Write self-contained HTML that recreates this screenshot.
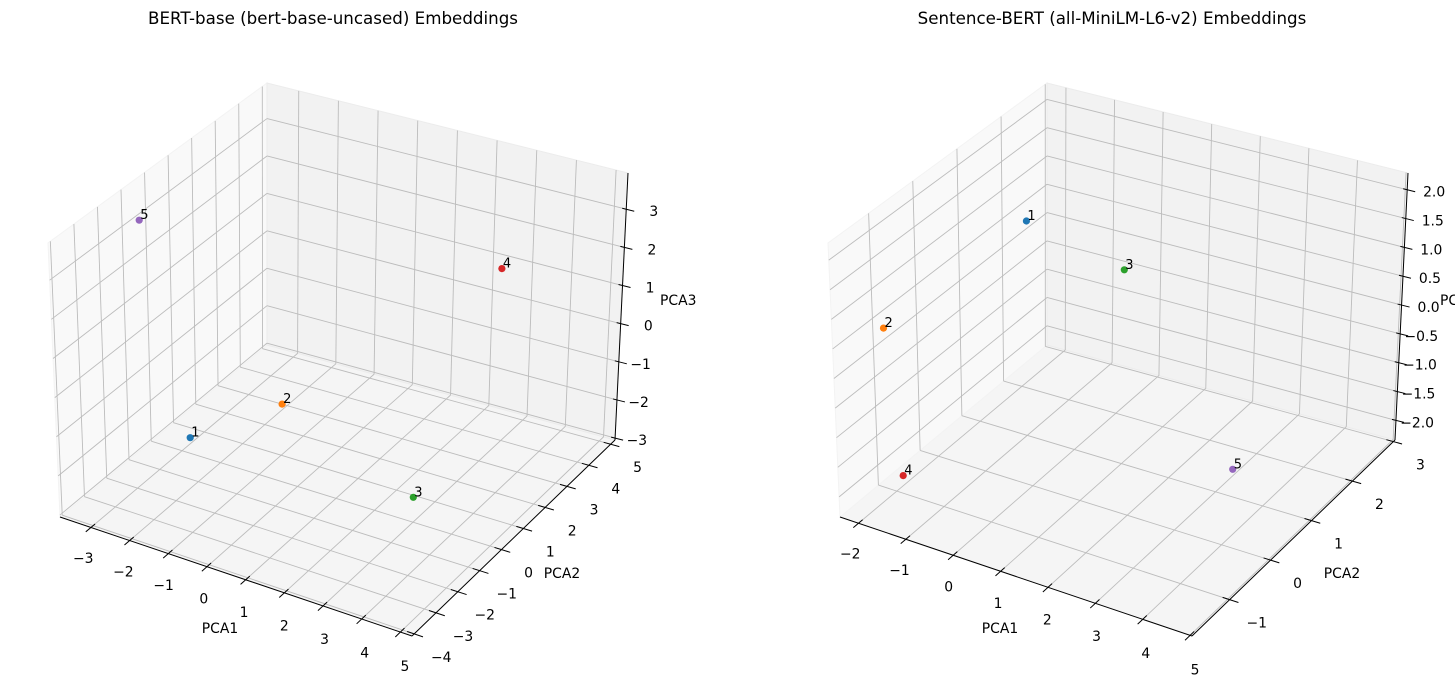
<!DOCTYPE html>
<html><head><meta charset="utf-8">
<style>
html,body{margin:0;padding:0;background:#fff;width:1455px;height:690px;overflow:hidden}
svg{display:block;font-family:"DejaVu Sans","Liberation Sans",sans-serif}
</style></head>
<body>
<svg id="fig" width="1455" height="690" viewBox="0 0 1455 690" xmlns="http://www.w3.org/2000/svg">
<text x="333" y="24" font-size="16.7" text-anchor="middle" fill="#000">BERT-base (bert-base-uncased) Embeddings</text>
<text x="1112" y="24" font-size="16.7" text-anchor="middle" fill="#000">Sentence-BERT (all-MiniLM-L6-v2) Embeddings</text>
</svg>
<script>
// ---- data: BERT chart ----
const bertIds = ['1','2','3','4','5'];
const bertX = [-2.52, -1.22, 3.05, 2.96, -3.40];
const bertY = [-0.44, 1.43, -0.09, 3.88, -0.94];
const bertZ = [-2.35, -2.0, -2.35, 1.5, 3.25];
const bertXTicks = [-3,-2,-1,0,1,2,3,4,5];
const bertYTicks = [-4,-3,-2,-1,0,1,2,3,4,5];
const bertZTicks = [-3,-2,-1,0,1,2,3];
const bertXLim = [-3.8, 5.3];
const bertYLim = [-4.1, 5.2];
const bertZLim = [-3.05, 3.95];
// ---- data: SBERT chart ----
const sbertIds = ['1','2','3','4','5'];
const sbertX = [-0.99, -2.11, 0.43, -1.68, 4.27];
const sbertY = [1.01, -1.06, 1.69, -1.19, -0.08];
const sbertZ = [1.36, 0.44, 0.44, -1.88, -0.95];
const sbertXTicks = [-2,-1,0,1,2,3,4,5];
const sbertYTicks = [-1,0,1,2,3];
const sbertZTicks = [-2,-1.5,-1,-0.5,0,0.5,1,1.5,2];
const sbertXLim = [-2.39, 5.04];
const sbertYLim = [-1.92, 3.04];
const sbertZLim = [-2.34, 2.29];

const colors = ['#1f77b4','#ff7f0e','#2ca02c','#d62728','#9467bd'];
const NS = 'http://www.w3.org/2000/svg';
const svg = document.getElementById('fig');

const C = {
  '000':[60,517],'100':[412,636],'010':[267,345],'110':[615,440],
  '001':[48,243],'101':[416,355],'011':[267,83],'111':[628,173]
};
function tri(u,v,w){
  let x=0,y=0;
  for (const k in C){
    const a=+k[0],b=+k[1],c=+k[2];
    const f=(a?u:1-u)*(b?v:1-v)*(c?w:1-w);
    x+=f*C[k][0]; y+=f*C[k][1];
  }
  return [x,y];
}
function mk(tag, attrs, parent){
  const e=document.createElementNS(NS,tag);
  for(const k in attrs) e.setAttribute(k,attrs[k]);
  (parent||svg).appendChild(e);
  return e;
}
function fmt(v,dec){
  const s = dec ? Math.abs(v).toFixed(1) : String(Math.abs(v));
  return (v<0?'\u2212':'')+s;
}

function drawChart(cfg){
  const ox=cfg.ox;
  const g=mk('g',{});
  
  
  const [x0,x1]=cfg.xl,[y0,y1]=cfg.yl,[z0,z1]=cfg.zl;
  const P=(x,y,z)=>{const p=tri((x-x0)/(x1-x0),(y-y0)/(y1-y0),(z-z0)/(z1-z0));return [p[0]+ox,p[1]];};
  const poly=(pts)=>pts.map(p=>p[0].toFixed(1)+','+p[1].toFixed(1)).join(' ');
  const floor=mk('polygon',{points:poly([P(x0,y0,z0),P(x1,y0,z0),P(x1,y1,z0),P(x0,y1,z0)]),fill:'#f5f5f5',stroke:'#f0f0f0'},g);
  
  
  const lw=mk('polygon',{points:poly([P(x0,y0,z0),P(x0,y1,z0),P(x0,y1,z1),P(x0,y0,z1)]),fill:'#f9f9f9',stroke:'#f3f3f3'},g);
  
  
  const bw=mk('polygon',{points:poly([P(x0,y1,z0),P(x1,y1,z0),P(x1,y1,z1),P(x0,y1,z1)]),fill:'#f2f2f2',stroke:'#ececec'},g);
  
  
  const gl=(a,b)=>{const l=mk('line',{x1:a[0],y1:a[1],x2:b[0],y2:b[1],stroke:'#bcbcbc','stroke-width':0.9},g);
    
    };
  cfg.xt.forEach(t=>{gl(P(t,y0,z0),P(t,y1,z0));gl(P(t,y1,z0),P(t,y1,z1));});
  cfg.yt.forEach(t=>{gl(P(x0,t,z0),P(x1,t,z0));gl(P(x0,t,z0),P(x0,t,z1));});
  cfg.zt.forEach(t=>{gl(P(x0,y0,t),P(x0,y1,t));gl(P(x0,y1,t),P(x1,y1,t));});
  const al=(a,b,n)=>{const l=mk('line',{x1:a[0],y1:a[1],x2:b[0],y2:b[1],stroke:'#000','stroke-width':1},g);
    
    };
  al(P(x0,y0,z0),P(x1,y0,z0),'x-axis-line');
  al(P(x1,y0,z0),P(x1,y1,z0),'y-axis-line');
  al(P(x1,y1,z0),P(x1,y1,z1),'z-axis-line');
  const yr=y1-y0,xr=x1-x0;
  const lbl=(x,y,txt,anchor,n)=>{const t=mk('text',{x:x.toFixed(1),y:y.toFixed(1),'font-size':13.9,'text-anchor':anchor,fill:'#000'},g);
    t.textContent=txt;
    
    };
  cfg.xt.forEach(t=>{
    const a=P(t,y0-0.025*yr,z0),b=P(t,y0+0.02*yr,z0);
    al(a,b,'x-tick');
    const p=P(t,y0,z0); const u=(t-x0)/xr;
    lbl(p[0]-9+14*u,p[1]+35+4*u,fmt(t,false),'middle','x-tick-label');
  });
  cfg.yt.forEach(t=>{
    const a=P(x1+0.025*xr,t,z0),b=P(x1-0.02*xr,t,z0);
    al(a,b,'y-tick');
    const p=P(x1,t,z0);
    lbl(p[0]+27,p[1]+28,fmt(t,false),'middle','y-tick-label');
  });
  cfg.zt.forEach(t=>{
    const p=P(x1,y1,t);
    al([p[0]-4,p[1]-1],[p[0]+8,p[1]+2],'z-tick');
    lbl(p[0]+cfg.zoff,p[1]+7,fmt(t,cfg.zdec),'end','z-tick-label');
  });
  lbl(ox+220,633,'PCA1','middle','x-axis-title');
  lbl(ox+562,578,'PCA2','middle','y-axis-title');
  lbl(ox+660,305,'PCA3','start','z-axis-title');
  cfg.px.forEach((v,i)=>{
    const p=P(cfg.px[i],cfg.py[i],cfg.pz[i]);
    const c=mk('circle',{cx:p[0].toFixed(1),cy:p[1].toFixed(1),r:3.6,fill:colors[i]},g);
    
    
    const t=mk('text',{x:(p[0]+1).toFixed(1),y:(p[1]-1).toFixed(1),'font-size':13,fill:'#000'},g);
    t.textContent=cfg.ids[i];
    
    
  });
}
drawChart({name:'bert',ox:0,xl:bertXLim,yl:bertYLim,zl:bertZLim,xt:bertXTicks,yt:bertYTicks,zt:bertZTicks,
  px:bertX,py:bertY,pz:bertZ,ids:bertIds,zoff:32,zdec:false});
drawChart({name:'sbert',ox:780,xl:sbertXLim,yl:sbertYLim,zl:sbertZLim,xt:sbertXTicks,yt:sbertYTicks,zt:sbertZTicks,
  px:sbertX,py:sbertY,pz:sbertZ,ids:sbertIds,zoff:38,zdec:true});
</script>
</body></html>
